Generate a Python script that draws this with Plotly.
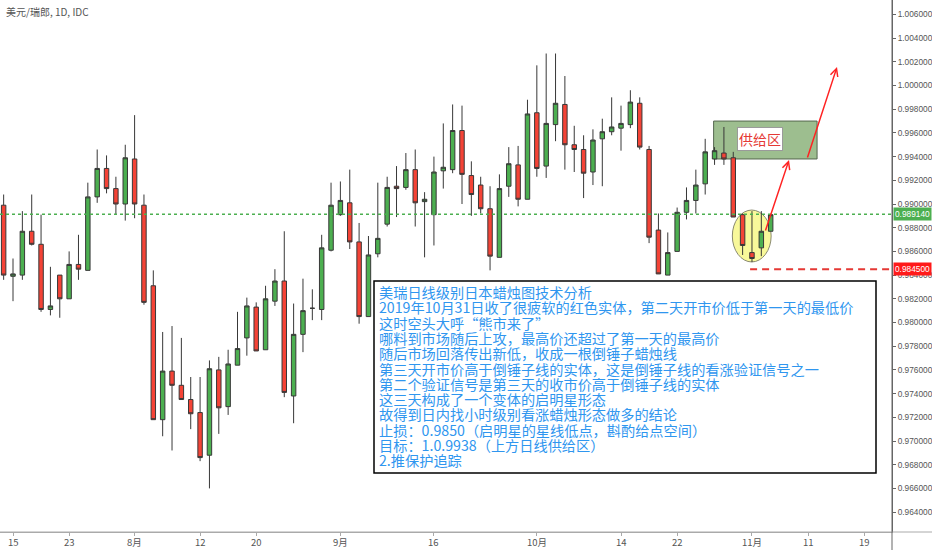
import pandas as pd
import plotly.graph_objects as go

# ---------------- data ----------------
dates = pd.bdate_range("2019-07-12", periods=83)

opens = [0.9899, 0.9839, 0.9840, 0.9877, 0.9866, 0.9811, 0.9840, 0.9820, 0.9849, 0.9844,
         0.9906, 0.9930, 0.9913, 0.9900, 0.9938, 0.9899, 0.9831, 0.9718, 0.9759, 0.9747,
         0.9735, 0.9724, 0.9688, 0.9760, 0.9729, 0.9764, 0.9787, 0.9813, 0.9777, 0.9818,
         0.9835, 0.9738, 0.9790, 0.9812, 0.9811, 0.9861, 0.9891, 0.9901, 0.9868, 0.9805,
         0.9858, 0.9883, 0.9915, 0.9914, 0.9929, 0.9902, 0.9891, 0.9928, 0.9929, 0.9962,
         0.9924, 0.9916, 0.9896, 0.9855, 0.9915, 0.9933, 0.9904, 0.9977, 0.9932, 0.9967,
         0.9984, 0.9950, 0.9946, 0.9927, 0.9955, 0.9961, 0.9964, 0.9967, 0.9985, 0.9946,
         0.9878, 0.9840, 0.9860, 0.9893, 0.9903, 0.9917, 0.9938, 0.9943, 0.9939, 0.9891,
         0.9859, 0.9863, 0.9877]
highs = [0.9908, 0.9854, 0.9894, 0.9908, 0.9891, 0.9847, 0.9840, 0.9860, 0.9874, 0.9918,
         0.9946, 0.9941, 0.9923, 0.9950, 0.9975, 0.9908, 0.9844, 0.9792, 0.9797, 0.9787,
         0.9754, 0.9754, 0.9768, 0.9771, 0.9777, 0.9809, 0.9821, 0.9817, 0.9831, 0.9845,
         0.9877, 0.9816, 0.9837, 0.9828, 0.9874, 0.9918, 0.9919, 0.9929, 0.9884, 0.9873,
         0.9918, 0.9923, 0.9932, 0.9943, 0.9946, 0.9910, 0.9940, 0.9968, 0.9984, 0.9983,
         0.9936, 0.9923, 0.9915, 0.9925, 0.9948, 0.9949, 0.9988, 1.0017, 1.0027, 1.0027,
         1.0008, 0.9966, 0.9958, 0.9963, 0.9972, 0.9990, 0.9983, 0.9996, 0.9990, 0.9949,
         0.9892, 0.9876, 0.9897, 0.9914, 0.9929, 0.9955, 0.9948, 0.9965, 0.9944, 0.9892,
         0.9894, 0.9894, 0.9891]
lows = [0.9836, 0.9818, 0.9836, 0.9865, 0.9809, 0.9806, 0.9804, 0.9820, 0.9836, 0.9844,
        0.9901, 0.9909, 0.9891, 0.9886, 0.9888, 0.9815, 0.9718, 0.9704, 0.9692, 0.9735,
        0.9710, 0.9683, 0.9660, 0.9706, 0.9722, 0.9764, 0.9772, 0.9776, 0.9777, 0.9814,
        0.9737, 0.9715, 0.9775, 0.9802, 0.9802, 0.9860, 0.9890, 0.9862, 0.9799, 0.9805,
        0.9855, 0.9881, 0.9889, 0.9912, 0.9881, 0.9855, 0.9865, 0.9913, 0.9926, 0.9900,
        0.9890, 0.9892, 0.9844, 0.9855, 0.9906, 0.9898, 0.9904, 0.9923, 0.9922, 0.9953,
        0.9929, 0.9927, 0.9905, 0.9916, 0.9915, 0.9958, 0.9945, 0.9964, 0.9946, 0.9867,
        0.9841, 0.9840, 0.9860, 0.9887, 0.9892, 0.9908, 0.9933, 0.9933, 0.9889, 0.9857,
        0.9851, 0.9856, 0.9877]
closes = [0.9840, 0.9841, 0.9877, 0.9866, 0.9811, 0.9814, 0.9820, 0.9849, 0.9845, 0.9906,
          0.9930, 0.9913, 0.9900, 0.9939, 0.9900, 0.9817, 0.9718, 0.9759, 0.9747, 0.9735,
          0.9723, 0.9686, 0.9761, 0.9728, 0.9765, 0.9778, 0.9814, 0.9776, 0.9820, 0.9835,
          0.9741, 0.9790, 0.9810, 0.9812, 0.9863, 0.9899, 0.9903, 0.9868, 0.9805, 0.9857,
          0.9871, 0.9914, 0.9913, 0.9929, 0.9901, 0.9904, 0.9927, 0.9931, 0.9962, 0.9925,
          0.9908, 0.9896, 0.9856, 0.9913, 0.9934, 0.9904, 0.9976, 0.9930, 0.9968, 0.9985,
          0.9950, 0.9946, 0.9926, 0.9954, 0.9961, 0.9965, 0.9968, 0.9986, 0.9948, 0.9872,
          0.9841, 0.9859, 0.9893, 0.9903, 0.9916, 0.9944, 0.9945, 0.9938, 0.9889, 0.9865,
          0.9854, 0.9877, 0.9891]

tick_dates = ["2019-07-15", "2019-07-23", "2019-08-01", "2019-08-12", "2019-08-20",
              "2019-09-02", "2019-09-16", "2019-10-01", "2019-10-14", "2019-10-22",
              "2019-11-01", "2019-11-11", "2019-11-19"]
tick_labels = ["15", "23", "8月", "12", "20", "9月", "16", "10月", "14", "22", "11月", "11", "19"]

price_ticks = [round(0.964 + 0.002 * k, 3) for k in range(22)]

last_price = 0.98914
stop_price = 0.9845
zone_low, zone_high = 0.9938, 0.9970

title_text = "美元/瑞郎, 1D, IDC"
note_lines = [
    "美瑞日线级别日本蜡烛图技术分析",
    "2019年10月31日收了很疲软的红色实体，第二天开市价低于第一天的最低价",
    "这时空头大呼“熊市来了”",
    "哪料到市场随后上攻，最高价还超过了第一天的最高价",
    "随后市场回落传出新低，收成一根倒锤子蜡烛线",
    "第三天开市价高于倒锤子线的实体，这是倒锤子线的看涨验证信号之一",
    "第二个验证信号是第三天的收市价高于倒锤子线的实体",
    "这三天构成了一个变体的启明星形态",
    "故得到日内找小时级别看涨蜡烛形态做多的结论",
    "止损：0.9850（启明星的星线低点，斟酌给点空间）",
    "目标：1.0.9938（上方日线供给区）",
    "2.推保护追踪",
]

# ---------------- figure ----------------
all_days = pd.bdate_range("2019-07-12", "2019-11-29")
x_idx = list(range(len(dates)))
tick_pos = [all_days.get_loc(pd.Timestamp(d)) for d in tick_dates]

W, H = 932, 550
PW, PH = 892, 532  # plot area in pixels


def px(x):
    return x / PW


def py(y):
    return 1 - y / PH


FONT = "Noto Sans CJK SC, Noto Sans, sans-serif"
NUMFONT = "Liberation Sans, Arial, sans-serif"

fig = go.Figure()
fig.add_trace(go.Candlestick(
    x=x_idx, open=opens, high=highs, low=lows, close=closes,
    increasing=dict(fillcolor="#4caf50", line=dict(color="#383838", width=1)),
    decreasing=dict(fillcolor="#f44336", line=dict(color="#383838", width=1)),
    hoverinfo="skip", showlegend=False,
))

shapes = []
# supply zone
shapes.append(dict(type="rect", xref="x", yref="y", x0=75.9, x1=86.96,
                   y0=zone_low, y1=zone_high, fillcolor="#9dbe8f",
                   line=dict(color="#55664f", width=1), layer="below"))
# yellow ellipse
shapes.append(dict(type="circle", xref="x", yref="y", x0=77.9, x1=82.05,
                   y0=0.98511, y1=0.98949, fillcolor="#f8f89a",
                   line=dict(color="#8a8a70", width=1), layer="below"))
# last price dotted line
shapes.append(dict(type="line", xref="paper", yref="y", x0=0, x1=1,
                   y0=last_price, y1=last_price,
                   line=dict(color="#4caf50", width=1.5, dash="dot")))
# stop dashed line
shapes.append(dict(type="line", xref="x", yref="y", x0=79.8, x1=94.97,
                   y0=stop_price, y1=stop_price,
                   line=dict(color="#e53935", width=2, dash="7px,5px")))
# text box
shapes.append(dict(type="rect", xref="paper", yref="paper",
                   x0=px(374), x1=px(876), y0=py(473), y1=py(281),
                   fillcolor="white", line=dict(color="black", width=1.5),
                   layer="above"))
# axis extensions
shapes.append(dict(type="line", xref="paper", yref="paper", x0=0, x1=W / PW,
                   y0=0, y1=0, line=dict(color="#aaaaaa", width=1)))
shapes.append(dict(type="line", xref="paper", yref="paper", x0=1, x1=1,
                   y0=-(H - PH) / PH, y1=1, line=dict(color="#666666", width=1)))

annotations = []
annotations.append(dict(xref="paper", yref="paper", x=px(4), y=py(12),
                        xanchor="left", yanchor="middle", showarrow=False,
                        text=title_text, font=dict(family=FONT, size=10, color="#555")))
for k, line in enumerate(note_lines):
    annotations.append(dict(xref="paper", yref="paper", x=px(377), y=py(292 + 15.3 * k),
                            xanchor="left", yanchor="middle", showarrow=False,
                            text=line, font=dict(family=FONT, size=14.2, color="#2f96ef")))
# x tick labels (placed just under the axis)
for pos, lab in zip(tick_pos, tick_labels):
    annotations.append(dict(xref="x", yref="paper", x=pos, y=py(542),
                            xanchor="center", yanchor="middle", showarrow=False,
                            text=lab, font=dict(family=FONT, size=9.5, color="#555")))
# supply label
annotations.append(dict(xref="x", yref="y", x=80.86, y=0.99545, showarrow=False,
                        text="供给区", font=dict(family=FONT, size=14, color="#e53935"),
                        bgcolor="white", bordercolor="#9a9a9a", borderwidth=1, borderpad=1))
# arrows
annotations.append(dict(xref="x", yref="y", axref="x", ayref="y",
                        x=83.96, y=0.99371, ax=81.39, ay=0.98764, text="",
                        showarrow=True, arrowhead=5, arrowsize=1, arrowwidth=1.5,
                        arrowcolor="#ff2222"))
annotations.append(dict(xref="x", yref="y", axref="x", ayref="y",
                        x=89.09, y=1.00156, ax=85.88, ay=0.99380, text="",
                        showarrow=True, arrowhead=5, arrowsize=1, arrowwidth=1.5,
                        arrowcolor="#ff2222"))
# right axis price labels
annotations.append(dict(xref="paper", yref="y", x=1, y=last_price, xanchor="left",
                        xshift=1, showarrow=False, text=f"{last_price:.6f}",
                        bgcolor="#4caf50", font=dict(family=NUMFONT, size=8.3, color="white"),
                        borderpad=1))
annotations.append(dict(xref="paper", yref="y", x=1, y=stop_price, xanchor="left",
                        xshift=1, showarrow=False, text=f"{stop_price:.6f}",
                        bgcolor="#ff1a1a", font=dict(family=NUMFONT, size=8.3, color="white"),
                        borderpad=1))

fig.update_layout(
    width=W, height=H,
    margin=dict(l=0, r=W - PW, t=0, b=H - PH, autoexpand=False),
    paper_bgcolor="white", plot_bgcolor="white",
    showlegend=False,
    boxgap=0.32,
    shapes=shapes, annotations=annotations,
    xaxis=dict(range=[-0.39, 94.97], rangeslider=dict(visible=False), automargin=False,
               tickvals=tick_pos, showticklabels=False, showgrid=False, zeroline=False,
               showline=True, linecolor="#aaaaaa", ticks="outside", ticklen=3,
               tickcolor="#aaaaaa"),
    yaxis=dict(side="right", range=[0.962321, 1.007215], tickvals=price_ticks,
               automargin=False,
               tickformat=".6f", showgrid=False, zeroline=False, showline=True,
               linecolor="#666666", ticks="outside", ticklen=3, tickcolor="#666666",
               tickfont=dict(family=NUMFONT, size=8.3, color="#555")),
)

fig.write_html("out.html", config={"displayModeBar": False},
               post_script="document.body.style.margin='0px';")
